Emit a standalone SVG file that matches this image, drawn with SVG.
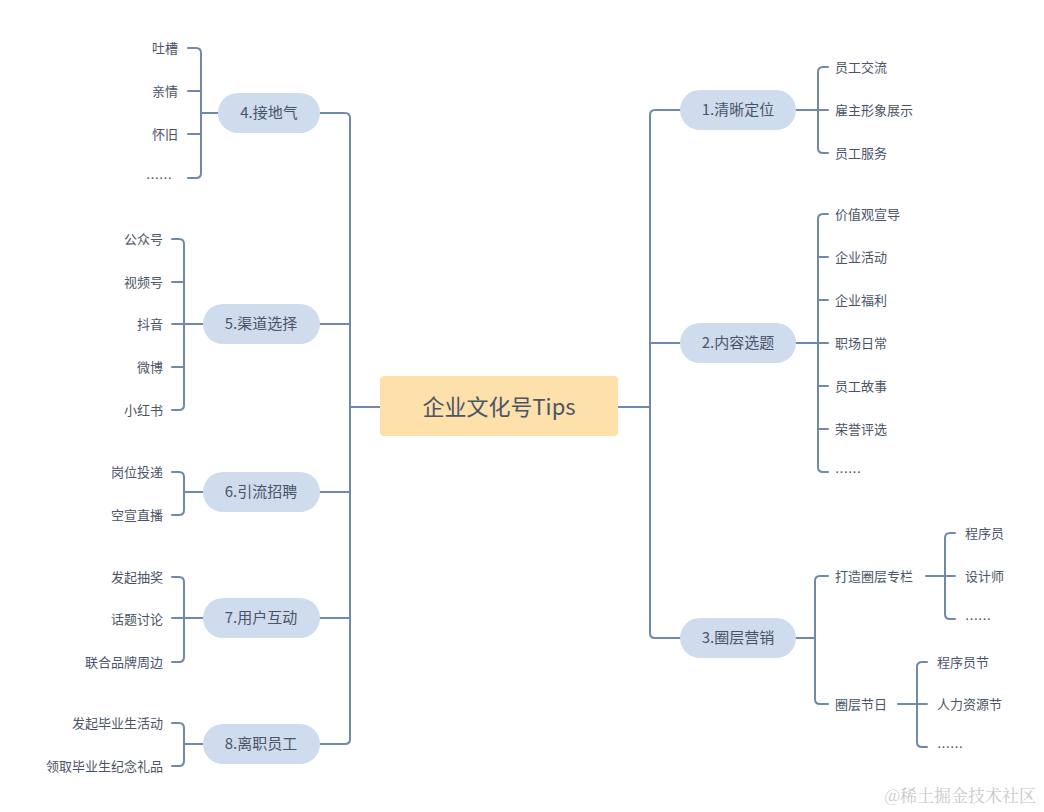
<svg xmlns="http://www.w3.org/2000/svg" width="1044" height="812" viewBox="0 0 1044 812">
<style>
.c{fill:none;stroke:#7088aa;stroke-width:2;stroke-linecap:round}
.n{fill:#cfdcee}
.t{font-family:"Noto Sans CJK SC","Noto Sans",sans-serif;fill:#4a5468}
.m{font-size:15px;text-anchor:middle}
.l{font-size:13px}
.r{text-anchor:end}
</style>
<rect width="1044" height="812" fill="#fff"/>
<g id="connectors" class="c">
<path d="M618 407H650M680 110H655Q650 110 650 115V633Q650 638 655 638H680M650 343H680"/>
<path d="M380 407H350M320 113H345Q350 113 350 118V739Q350 744 345 744H320M320 324H350M320 492H350M320 618H350"/>
<path d="M796 110H818M828 67H823Q818 67 818 72V148Q818 153 823 153H828M818 110H828"/>
<path d="M796 343H818M828 214H823Q818 214 818 219V467Q818 472 823 472H828M818 257H828M818 300H828M818 343H828M818 386H828M818 429H828"/>
<path d="M796 638H815M828 576H820Q815 576 815 581V699Q815 704 820 704H828"/>
<path d="M926 576H955M955 533H950Q945 533 945 538V614Q945 619 950 619H955"/>
<path d="M898 704H927M927 662H922Q917 662 917 667V742Q917 747 922 747H927"/>
<path d="M218 113H201M188 48H196Q201 48 201 53V173Q201 178 196 178H188M188 91H201M188 134H201"/>
<path d="M203 324H172M172 239H179Q184 239 184 244V405Q184 410 179 410H172M172 282H184M172 367H184"/>
<path d="M203 492H184M172 472H179Q184 472 184 477V510Q184 515 179 515H172"/>
<path d="M203 618H172M172 577H179Q184 577 184 582V657Q184 662 179 662H172"/>
<path d="M203 744H184M172 723H179Q184 723 184 728V761Q184 766 179 766H172"/>
</g>
<g id="center"><rect x="380" y="376" width="238" height="60" rx="4" fill="#fde0aa"/><text class="t" x="499" y="415" font-size="22" text-anchor="middle">企业文化号Tips</text></g>
<g id="n1"><rect class="n" x="680" y="90" width="116" height="40" rx="20"/><text class="t m" x="738" y="115">1.清晰定位</text></g>
<g id="n2"><rect class="n" x="680" y="323" width="116" height="40" rx="20"/><text class="t m" x="738" y="348">2.内容选题</text></g>
<g id="n3"><rect class="n" x="680" y="618" width="116" height="40" rx="20"/><text class="t m" x="738" y="643">3.圈层营销</text></g>
<g id="n4"><rect class="n" x="218" y="93" width="102" height="40" rx="20"/><text class="t m" x="269" y="118">4.接地气</text></g>
<g id="n5"><rect class="n" x="203" y="304" width="117" height="40" rx="20"/><text class="t m" x="261" y="329">5.渠道选择</text></g>
<g id="n6"><rect class="n" x="203" y="472" width="117" height="40" rx="20"/><text class="t m" x="261" y="497">6.引流招聘</text></g>
<g id="n7"><rect class="n" x="203" y="598" width="117" height="40" rx="20"/><text class="t m" x="261" y="623">7.用户互动</text></g>
<g id="n8"><rect class="n" x="203" y="724" width="117" height="40" rx="20"/><text class="t m" x="261" y="749">8.离职员工</text></g>
<g id="leaves" class="t l">
<text x="835" y="72">员工交流</text><text x="835" y="115">雇主形象展示</text><text x="835" y="158">员工服务</text>
<text x="835" y="219">价值观宣导</text><text x="835" y="262">企业活动</text><text x="835" y="305">企业福利</text><text x="835" y="348">职场日常</text><text x="835" y="391">员工故事</text><text x="835" y="434">荣誉评选</text><text x="835" y="477">……</text>
<text x="835" y="581">打造圈层专栏</text><text x="835" y="709">圈层节日</text>
<text x="965" y="538">程序员</text><text x="965" y="581">设计师</text><text x="965" y="624">……</text>
<text x="937" y="667">程序员节</text><text x="937" y="709">人力资源节</text><text x="937" y="752">……</text>
<g class="r">
<text x="178" y="53">吐槽</text><text x="178" y="96">亲情</text><text x="178" y="139">怀旧</text><text x="172" y="183">……</text>
<text x="163" y="244">公众号</text><text x="163" y="287">视频号</text><text x="163" y="329">抖音</text><text x="163" y="372">微博</text><text x="163" y="415">小红书</text>
<text x="163" y="477">岗位投递</text><text x="163" y="520">空宣直播</text>
<text x="163" y="582">发起抽奖</text><text x="163" y="624">话题讨论</text><text x="163" y="667">联合品牌周边</text>
<text x="163" y="728">发起毕业生活动</text><text x="163" y="771">领取毕业生纪念礼品</text>
</g>
</g>
<text x="1036" y="802" font-family="Noto Serif CJK SC,Noto Sans CJK SC,serif" font-size="17" fill="#c8c8c8" text-anchor="end">@稀土掘金技术社区</text>
</svg>
